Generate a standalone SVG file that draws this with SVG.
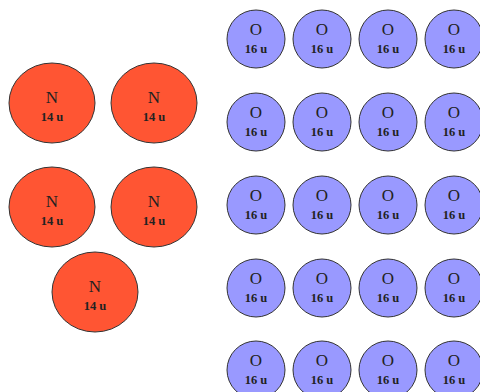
<svg xmlns="http://www.w3.org/2000/svg" width="480" height="392" viewBox="0 0 480 392">
<defs>
<style>
.n{fill:#ff5533;stroke:#333;stroke-width:1}
.o{fill:#9999ff;stroke:#333;stroke-width:1}
.s{font-family:"Liberation Serif","Times New Roman",serif;fill:#222;text-anchor:middle}
.b{font-size:17px}
.m{font-size:12.5px;font-weight:bold}
</style>
<g id="N" ><ellipse class="n" cx="0" cy="0" rx="43" ry="40"/><text class="s b" x="0" y="0">N</text><text class="s m" x="0" y="18">14 u</text></g>
<g id="O"><circle class="o" cx="0" cy="0" r="29"/><text class="s b" x="0" y="-4">O</text><text class="s m" x="0" y="14">16 u</text></g>
</defs>
<rect width="480" height="392" fill="#fff"/>
<g id="nitrogen">
<use id="n1" href="#N" x="52" y="103"/>
<use id="n2" href="#N" x="154" y="103"/>
<use id="n3" href="#N" x="52" y="207"/>
<use id="n4" href="#N" x="154" y="207"/>
<use id="n5" href="#N" x="95" y="292"/>
</g>
<g id="oxygen">
<use href="#O" x="256" y="39"/><use href="#O" x="322" y="39"/><use href="#O" x="388" y="39"/><use href="#O" x="454" y="39"/>
<use href="#O" x="256" y="122"/><use href="#O" x="322" y="122"/><use href="#O" x="388" y="122"/><use href="#O" x="454" y="122"/>
<use href="#O" x="256" y="205"/><use href="#O" x="322" y="205"/><use href="#O" x="388" y="205"/><use href="#O" x="454" y="205"/>
<use href="#O" x="256" y="288"/><use href="#O" x="322" y="288"/><use href="#O" x="388" y="288"/><use href="#O" x="454" y="288"/>
<use href="#O" x="256" y="370"/><use href="#O" x="322" y="370"/><use href="#O" x="388" y="370"/><use href="#O" x="454" y="370"/>
</g>
</svg>
